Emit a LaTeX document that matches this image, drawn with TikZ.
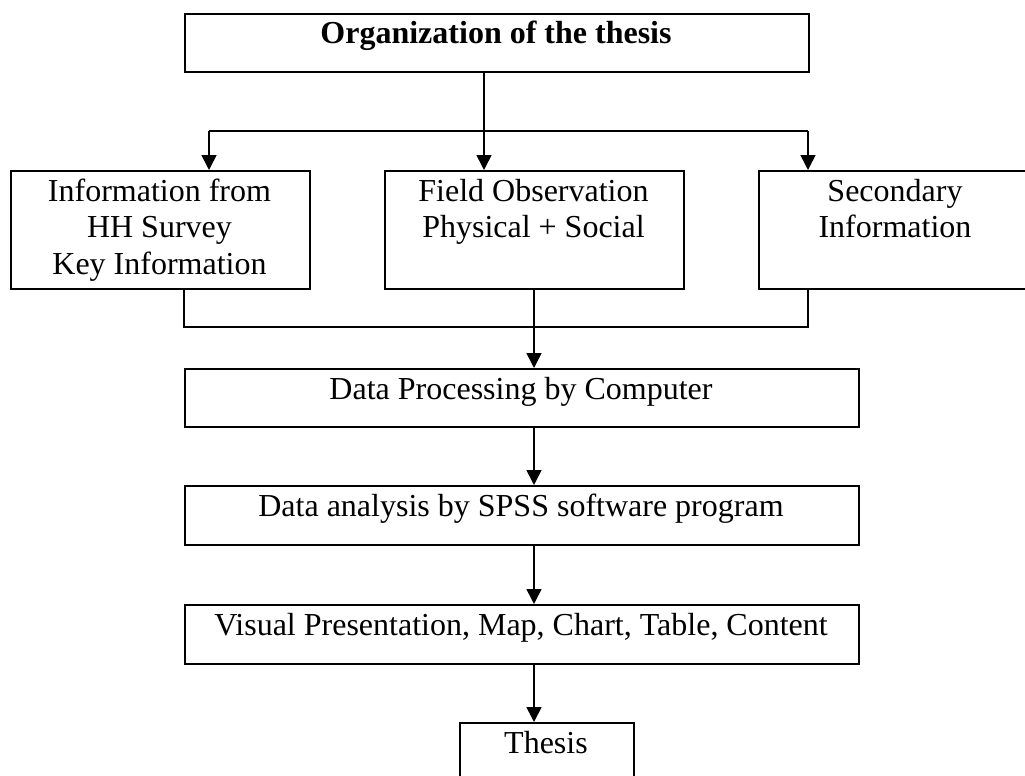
\documentclass[tikz,border=0pt]{standalone}
\usepackage{fontspec}
\setmainfont{Liberation Serif}
\usetikzlibrary{arrows.meta}
\begin{document}
\begin{tikzpicture}[x=1pt,y=-1pt,
  font=\fontsize{32}{36.5}\selectfont,
  box/.style={draw=black, line width=1.6pt, inner sep=0pt, anchor=north west, rectangle},
  txt/.style={inner sep=0pt, anchor=base, align=center},
  link/.style={line width=1.6pt},
  arr/.style={line width=1.6pt, -{Triangle[width=15pt,length=15pt]}}]
\useasboundingbox (0,0) rectangle (1025,776);
% boxes
\node[box, minimum width=624pt, minimum height=58pt] (top) at (184,13) {};
\node[box, minimum width=299pt, minimum height=118pt] (left) at (10,170) {};
\node[box, minimum width=299pt, minimum height=118pt] (mid) at (384,170) {};
\node[box, minimum width=274pt, minimum height=118pt] (right) at (758,170) {};
\node[box, minimum width=674pt, minimum height=58pt] (dp) at (184,368) {};
\node[box, minimum width=674pt, minimum height=59pt] (da) at (184,485) {};
\node[box, minimum width=674pt, minimum height=59pt] (vis) at (184,604) {};
\node[box, minimum width=174pt, minimum height=70pt] (th) at (459,722) {};
% texts (multi-line nodes: base anchor is at the last line)
\node[txt] (topt) at (496,44) {\textbf{Organization of the thesis}};
\node[txt] (leftt) at (159.5,274) {Information from\\HH Survey\\Key Information};
\node[txt] (midt) at (533.5,237.5) {Field Observation\\Physical + Social};
\node[txt] (rightt) at (895,237.5) {Secondary\\Information};
\node[txt] (dpt) at (521,399) {Data Processing by Computer};
\node[txt] (dat) at (521,516) {Data analysis by SPSS software program};
\node[txt] (vist) at (521,635) {Visual Presentation, Map, Chart, Table, Content};
\node[txt] (tht) at (546,753) {Thesis};
% junction coordinates
\coordinate (ja) at (484,131);
\coordinate (jl) at (209,131);
\coordinate (jr) at (808,131);
\coordinate (jb) at (534,327);
\coordinate (bl) at (184,327);
\coordinate (br) at (808,327);
% connectors
\draw[link] (top.south -| ja) -- (ja);
\draw[link] (jl) -- (jr);
\draw[arr] (ja) -- (ja |- mid.north);
\draw[arr] (jl) -- (jl |- left.north);
\draw[arr] (jr) -- (jr |- right.north);
\draw[link] (left.south -| bl) -- (bl) -- (br) -- (right.south -| br);
\draw[arr] (mid.south -| jb) -- (jb |- dp.north);
\draw[arr] (dp.south -| jb) -- (jb |- da.north);
\draw[arr] (da.south -| jb) -- (jb |- vis.north);
\draw[arr] (vis.south -| jb) -- (jb |- th.north);
\end{tikzpicture}
\end{document}
